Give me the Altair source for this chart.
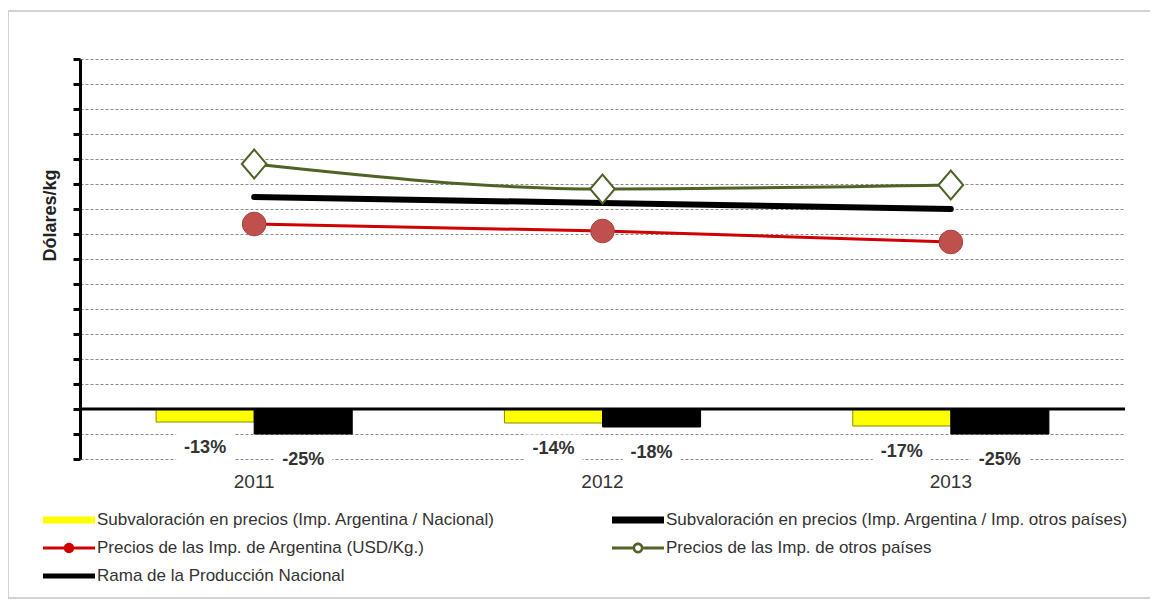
import altair as alt
import pandas as pd

# ---------------- data ----------------
years = ["2011", "2012", "2013"]

SUB_NAC = "Subvaloración en precios (Imp. Argentina / Nacional)"
SUB_OTROS = "Subvaloración en precios (Imp. Argentina / Imp. otros países)"
PREC_ARG = "Precios de las Imp.  de Argentina (USD/Kg.)"
PREC_OTROS = "Precios de las Imp. de otros países"
RAMA = "Rama de la Producción Nacional"
series_order = [SUB_NAC, SUB_OTROS, PREC_ARG, PREC_OTROS, RAMA]

sub_nac = [-0.13, -0.14, -0.17]
sub_otros = [-0.25, -0.18, -0.25]
precio_arg = [1.85, 1.78, 1.67]
precio_otros = [2.45, 2.20, 2.24]
rama = [2.12, 2.06, 2.00]

y_ticks = [-0.5 + 0.25 * i for i in range(17)]

# ---------------- tables ----------------
bars = pd.DataFrame(
    [{"year": y, "serie": SUB_NAC, "valor": v} for y, v in zip(years, sub_nac)]
    + [{"year": y, "serie": SUB_OTROS, "valor": v} for y, v in zip(years, sub_otros)]
)
bars["label"] = [f"{round(v * 100):d}%" for v in bars["valor"]]

lines = pd.DataFrame(
    [{"year": y, "serie": PREC_ARG, "valor": v} for y, v in zip(years, precio_arg)]
    + [{"year": y, "serie": PREC_OTROS, "valor": v} for y, v in zip(years, precio_otros)]
    + [{"year": y, "serie": RAMA, "valor": v} for y, v in zip(years, rama)]
)

legend_df = pd.DataFrame({"serie": series_order})

# ---------------- scales ----------------
FONT = "Liberation Sans"
series_colors = ["#ffff00", "#000000", "#d00000", "#4f6228", "#000000"]
x_scale = alt.Scale(domain=years, paddingInner=0, paddingOuter=0)
y_scale = alt.Scale(domain=[-0.5, 3.5], nice=False, zero=False)
off_scale = alt.Scale(domain=[SUB_NAC, SUB_OTROS], paddingInner=0, paddingOuter=0.776)
# colour scale of the drawn marks (own domain order, so its hidden legend stays separate)
color_scale = alt.Scale(domain=series_order[::-1], range=series_colors[::-1])
fill_scale = alt.Scale(domain=series_order, range=series_colors)
shape_scale = alt.Scale(
    domain=series_order,
    range=[
        "M-2,-0.27H2V0.27H-2Z",
        "M-2,-0.27H2V0.27H-2Z",
        "M-2,-0.12H2V0.12H-2Z M-0.4,0A0.4,0.4 0 1,1 0.4,0A0.4,0.4 0 1,1 -0.4,0Z",
        "M-2,-0.12H-0.42V0.12H-2Z M0.42,-0.12H2V0.12H0.42Z "
        "M-0.42,0A0.42,0.42 0 1,1 0.42,0A0.42,0.42 0 1,1 -0.42,0Z "
        "M-0.22,0A0.22,0.22 0 1,0 0.22,0A0.22,0.22 0 1,0 -0.22,0Z",
        "M-2,-0.2H2V0.2H-2Z",
    ],
)

x_axis = alt.Axis(
    domain=False, ticks=False, grid=False, labelAngle=0, labelFontSize=19,
    labelColor="#333333", labelFont=FONT, labelPadding=13, title=None,
)
y_axis = alt.Axis(
    values=y_ticks, tickCount=17, labels=False, domainColor="black", domainWidth=3,
    tickColor="black", tickWidth=3, tickSize=7, grid=True, gridColor="#8a8a8a",
    gridDash=[3, 2], gridWidth=1.2, title="Dólares/kg", titleFont=FONT,
    titleFontSize=18, titleFontWeight="bold", titleColor="#222222",
    titleAngle=270, titleX=-30, titleY=156, titleAlign="center",
    titleBaseline="middle",
)

X = alt.X("year:N", scale=x_scale, axis=x_axis)
Y = alt.Y("valor:Q", scale=y_scale, axis=y_axis)
OFF = alt.XOffset("serie:N", scale=off_scale)
COLOR = alt.Color("serie:N", scale=color_scale, legend=None)

# ---------------- layers ----------------
one = alt.Data(values=[{"a": 1}])
FRAME = dict(color="#c4c4c4", strokeWidth=1.5)
frame_left = alt.Chart(one).mark_rule(**FRAME).encode(
    x=alt.value(-72), y=alt.value(-48), y2=alt.value(539))
frame_top = alt.Chart(one).mark_rule(**FRAME).encode(
    x=alt.value(-72), x2=alt.value(1070), y=alt.value(-48))
frame_bottom = alt.Chart(one).mark_rule(**FRAME).encode(
    x=alt.value(-72), x2=alt.value(1070), y=alt.value(539))

label_boxes = alt.Chart(bars).mark_point(
    shape="M-1,-0.5H1V0.5H-1Z", size=3364, filled=True, color="white", opacity=1
).encode(x=X, xOffset=OFF, y=Y, yOffset=alt.value(26))

bar_layer = alt.Chart(bars).mark_bar(strokeWidth=1).encode(
    x=X,
    xOffset=OFF,
    y=Y,
    color=COLOR,
    stroke=alt.condition(alt.datum.serie == SUB_NAC, alt.value("#8c8c00"), alt.value("#000000")),
)

zero_rule = alt.Chart(one).mark_rule(
    color="black", strokeWidth=3
).encode(y=alt.Y(datum=0, scale=y_scale, axis=y_axis))

bar_text = alt.Chart(bars).mark_text(
    fontWeight="bold", fontSize=18, font=FONT, dy=26, baseline="middle", color="#333333"
).encode(x=X, xOffset=OFF, y=Y, text="label:N")

rama_line = alt.Chart(lines).transform_filter(alt.datum.serie == RAMA).mark_line(
    strokeWidth=6, strokeCap="round"
).encode(x=X, y=Y, color=COLOR)

otros_line = alt.Chart(lines).transform_filter(alt.datum.serie == PREC_OTROS).mark_line(
    strokeWidth=3, interpolate="monotone"
).encode(x=X, y=Y, color=COLOR)

otros_pts = alt.Chart(lines).transform_filter(alt.datum.serie == PREC_OTROS).mark_point(
    shape="M-0.85,0L0,-1L0.85,0L0,1Z", size=841, filled=True, fill="white",
    stroke="#4f6228", strokeWidth=2, opacity=1
).encode(x=X, y=Y)

arg_line = alt.Chart(lines).transform_filter(alt.datum.serie == PREC_ARG).mark_line(
    strokeWidth=3
).encode(x=X, y=Y, color=COLOR)

arg_pts = alt.Chart(lines).transform_filter(alt.datum.serie == PREC_ARG).mark_circle(
    size=560, color="#c0504d", stroke="#a8403d", strokeWidth=1, opacity=1
).encode(x=X, y=Y)

legend_spec = alt.Legend(
    title=None, orient="none", direction="horizontal", legendX=-24, legendY=448,
    columns=2, columnPadding=117, rowPadding=7, symbolSize=676, symbolStrokeWidth=0,
    labelOffset=15, labelFontSize=17, labelFont=FONT, labelColor="#333333",
    labelLimit=700, padding=0,
)

legend_layer = alt.Chart(legend_df).mark_point(
    filled=True, opacity=1, size=676
).encode(
    x=alt.value(-3000),
    y=alt.value(-3000),
    fill=alt.Fill("serie:N", scale=fill_scale, legend=legend_spec),
    shape=alt.Shape("serie:N", scale=shape_scale, legend=legend_spec),
)

chart = alt.layer(
    frame_left, frame_top, frame_bottom, label_boxes, bar_layer, zero_rule, bar_text,
    rama_line, otros_line, otros_pts, arg_line, arg_pts, legend_layer,
).properties(
    width=1045,
    height=400,
    autosize=alt.AutoSizeParams(type="none"),
    padding={"left": 72, "top": 51, "right": 25, "bottom": 143},
    background="white",
).configure_view(stroke="transparent")

chart.save("out.html", embed_options={"renderer": "svg", "actions": False})
